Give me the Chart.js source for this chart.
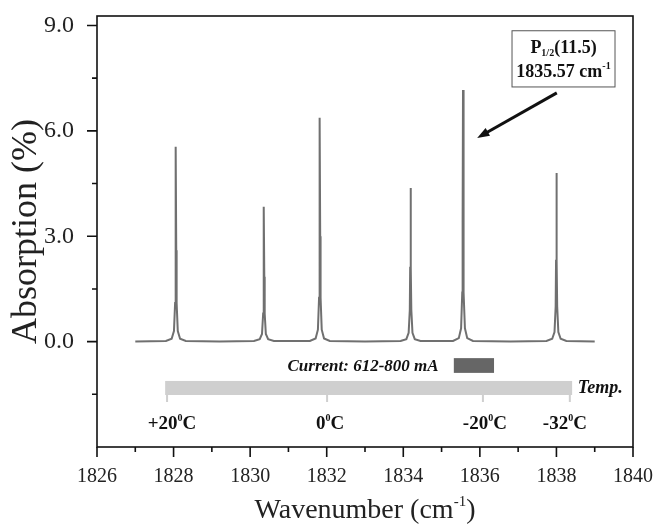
<!DOCTYPE html>
<html>
<head>
<meta charset="utf-8">
<script src="https://cdn.jsdelivr.net/npm/chart.js@4.4.1/dist/chart.umd.min.js"></script>
<style>
  body { margin: 0; background: #fff; }
  canvas { display: block; }
</style>
</head>
<body>
<canvas id="grafico" width="658" height="526"></canvas>
<script>
// spectrum (cm-1 / %)
const wavenumber = [
  1827.00,
  1827.80, 1827.95, 1828.01, 1828.04, 1828.05, 1828.06, 1828.07, 1828.08, 1828.11, 1828.17, 1828.32,
  1829.20,
  1830.10, 1830.25, 1830.31, 1830.34, 1830.35, 1830.36, 1830.37, 1830.38, 1830.41, 1830.47, 1830.62,
  1831.56, 1831.71, 1831.77, 1831.80, 1831.81, 1831.82, 1831.83, 1831.84, 1831.87, 1831.93, 1832.08,
  1833.00,
  1833.93, 1834.08, 1834.14, 1834.17, 1834.18, 1834.19, 1834.20, 1834.21, 1834.24, 1834.30, 1834.45,
  1835.30, 1835.45, 1835.51, 1835.54, 1835.55, 1835.56, 1835.57, 1835.58, 1835.61, 1835.67, 1835.82,
  1836.80,
  1837.74, 1837.89, 1837.95, 1837.98, 1837.99, 1838.00, 1838.01, 1838.02, 1838.05, 1838.11, 1838.26,
  1839.00
];
const absorption = [
  0.00,
  0.02, 0.08, 0.30, 1.10, 2.60, 5.55, 2.60, 1.10, 0.30, 0.08, 0.02,
  0.00,
  0.02, 0.07, 0.22, 0.80, 1.85, 3.84, 1.85, 0.80, 0.22, 0.07, 0.02,
  0.02, 0.09, 0.34, 1.25, 3.00, 6.37, 3.00, 1.25, 0.34, 0.09, 0.02,
  0.00,
  0.02, 0.07, 0.25, 0.90, 2.10, 4.37, 2.10, 0.90, 0.25, 0.07, 0.02,
  0.02, 0.10, 0.38, 1.40, 3.40, 7.16, 3.40, 1.40, 0.38, 0.10, 0.02,
  0.00,
  0.02, 0.08, 0.27, 1.00, 2.30, 4.80, 2.30, 1.00, 0.27, 0.08, 0.02,
  0.00
];

// temperature scale under the spectrum
const tempLabels = ["+20", "0", "-20", "-32"];
const tempTicks = [1827.83, 1832.01, 1836.08, 1838.35];
const tempLabelPos = [1827.96, 1832.09, 1836.13, 1838.22];

const SERIF = '"Liberation Serif", "Times New Roman", serif';

/* ===========================
   HELPERS
=========================== */
// text with a small raised/lowered part: parts = [[text, 'n'|'sup'|'sub'], ...]
function drawRich(ctx, parts, x, y, size, style, align) {
  const fontFor = k => `${style} ${k === "n" ? size : Math.round(size * 0.55)}px ${SERIF}`;
  let total = 0;
  parts.forEach(([t, k]) => { ctx.font = fontFor(k); total += ctx.measureText(t).width; });
  let cx = align === "center" ? x - total / 2 : x;
  ctx.textAlign = "left";
  ctx.textBaseline = "alphabetic";
  parts.forEach(([t, k]) => {
    ctx.font = fontFor(k);
    const dy = k === "sup" ? -size * 0.42 : k === "sub" ? size * 0.2 : 0;
    ctx.fillText(t, cx, y + dy);
    cx += ctx.measureText(t).width;
  });
}

/* ===========================
   PLUGIN: frame, ticks, notes
=========================== */
const extras = {
  id: "extras",
  afterDraw(chart) {
    const ctx = chart.ctx;
    const a = chart.chartArea;
    const sx = chart.scales.x, sy = chart.scales.y;
    const X = v => sx.getPixelForValue(v);
    const Y = v => sy.getPixelForValue(v);
    ctx.save();

    // frame
    ctx.strokeStyle = "#111";
    ctx.lineWidth = 1.6;
    ctx.strokeRect(a.left, a.top, a.right - a.left, a.bottom - a.top);

    // tick marks (outward)
    ctx.beginPath();
    for (let v = 1826; v <= 1840; v += 1) {
      const len = v % 2 === 0 ? 10 : 5;
      ctx.moveTo(X(v), a.bottom); ctx.lineTo(X(v), a.bottom + len);
    }
    for (let v = -1.5; v <= 9; v += 1.5) {
      const len = v % 3 === 0 ? 10 : 5;
      ctx.moveTo(a.left, Y(v)); ctx.lineTo(a.left - len, Y(v));
    }
    ctx.stroke();

    // axis titles
    ctx.fillStyle = "#222";
    drawRich(ctx, [["Wavenumber (cm", "n"], ["-1", "sup"], [")", "n"]],
      (a.left + a.right) / 2, 518, 28, "normal", "center");
    ctx.save();
    ctx.translate(36, (a.top + a.bottom) / 2);
    ctx.rotate(-Math.PI / 2);
    ctx.font = `36px ${SERIF}`;
    ctx.textAlign = "center";
    ctx.textBaseline = "alphabetic";
    ctx.fillText("Absorption (%)", 0, 0);
    ctx.restore();

    // label box for the strongest line
    const bx0 = X(1836.84), bx1 = X(1839.53), by0 = Y(8.85), by1 = Y(7.25);
    ctx.strokeStyle = "#555";
    ctx.lineWidth = 1;
    ctx.strokeRect(bx0, by0, bx1 - bx0, by1 - by0);
    ctx.fillStyle = "#111";
    drawRich(ctx, [["P", "n"], ["1/2", "sub"], ["(11.5)", "n"]], (bx0 + bx1) / 2, by0 + 22, 18, "bold", "center");
    drawRich(ctx, [["1835.57 cm", "n"], ["-1", "sup"]], (bx0 + bx1) / 2, by0 + 46, 18, "bold", "center");

    // arrow
    const ax0 = X(1838.01), ay0 = Y(7.08), ax1 = X(1835.93), ay1 = Y(5.80);
    const ang = Math.atan2(ay1 - ay0, ax1 - ax0);
    ctx.strokeStyle = "#111";
    ctx.lineWidth = 3;
    ctx.beginPath();
    ctx.moveTo(ax0, ay0);
    ctx.lineTo(ax1 - 8 * Math.cos(ang), ay1 - 8 * Math.sin(ang));
    ctx.stroke();
    ctx.beginPath();
    ctx.moveTo(ax1, ay1);
    ctx.lineTo(ax1 - 13 * Math.cos(ang - 0.35), ay1 - 13 * Math.sin(ang - 0.35));
    ctx.lineTo(ax1 - 13 * Math.cos(ang + 0.35), ay1 - 13 * Math.sin(ang + 0.35));
    ctx.closePath();
    ctx.fill();

    // current range
    ctx.font = `bold italic 17px ${SERIF}`;
    ctx.textAlign = "center";
    ctx.textBaseline = "middle";
    ctx.fillText("Current: 612-800 mA", X(1832.95), Y(-0.72));
    ctx.fillStyle = "#666";
    ctx.fillRect(X(1835.32), Y(-0.47), X(1836.37) - X(1835.32), Y(-0.89) - Y(-0.47));

    // temperature bar
    ctx.fillStyle = "#cfcfcf";
    ctx.fillRect(X(1827.78), Y(-1.12), X(1838.41) - X(1827.78), Y(-1.52) - Y(-1.12));
    ctx.strokeStyle = "#cfcfcf";
    ctx.lineWidth = 2;
    ctx.beginPath();
    tempTicks.forEach(t => { ctx.moveTo(X(t), Y(-1.5)); ctx.lineTo(X(t), Y(-1.72)); });
    ctx.stroke();

    ctx.fillStyle = "#111";
    ctx.font = `bold italic 18px ${SERIF}`;
    ctx.textAlign = "left";
    ctx.textBaseline = "middle";
    ctx.fillText("Temp.", X(1838.56), Y(-1.32));
    tempLabels.forEach((t, i) => {
      drawRich(ctx, [[t, "n"], ["0", "sup"], ["C", "n"]], X(tempLabelPos[i]), Y(-2.29) + 7, 19, "bold", "center");
    });

    ctx.restore();
  }
};

/* ===========================
   CHART
=========================== */
new Chart(document.getElementById("grafico"), {
  type: "scatter",
  data: {
    datasets: [{
      data: wavenumber.map((w, i) => ({ x: w, y: absorption[i] })),
      showLine: true,
      borderColor: "#707070",
      borderWidth: 2,
      pointRadius: 0,
      tension: 0
    }]
  },
  options: {
    responsive: false,
    animation: false,
    layout: { padding: { top: 16, right: 25, left: 0, bottom: 0 } },
    plugins: { legend: { display: false }, tooltip: { enabled: false } },
    scales: {
      x: {
        type: "linear",
        min: 1826, max: 1840,
        grid: { display: false },
        border: { display: false },
        ticks: {
          stepSize: 2, includeBounds: false, padding: 10,
          color: "#222", font: { family: SERIF, size: 20 },
          callback: v => String(v)
        },
        afterFit: s => { s.height = 79; s.paddingLeft = 0; s.paddingRight = 0; }
      },
      y: {
        min: -3, max: 9.27,
        grid: { display: false },
        border: { display: false },
        ticks: {
          stepSize: 3, includeBounds: false, padding: 15,
          color: "#222", font: { family: SERIF, size: 24 },
          callback: v => (v === -3 ? "" : v.toFixed(1))
        },
        afterFit: s => { s.width = 97; s.paddingTop = 0; s.paddingBottom = 0; }
      }
    }
  },
  plugins: [extras]
});
</script>
</body>
</html>
